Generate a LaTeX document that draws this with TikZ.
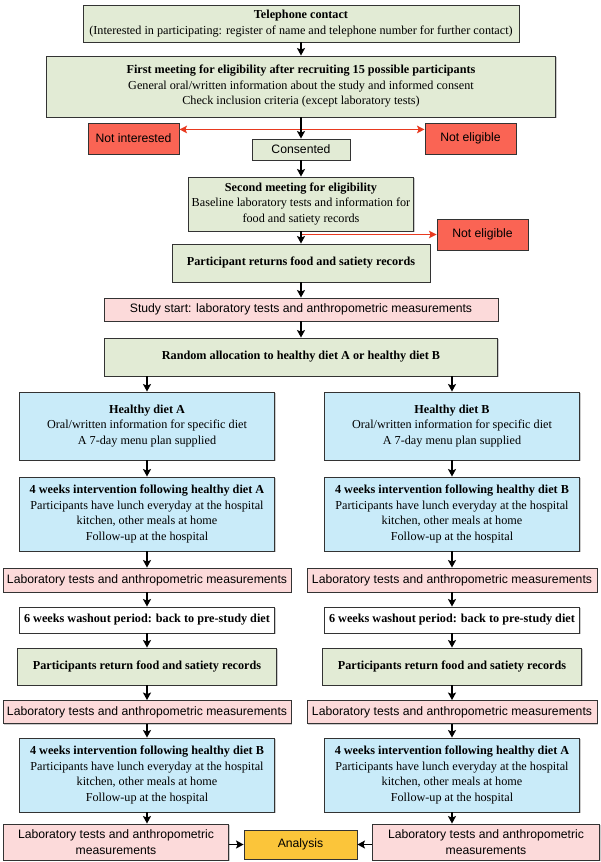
\documentclass[tikz,border=0pt]{standalone}
\usepackage{fontspec}
\setmainfont{Liberation Serif}
\setsansfont{Liberation Sans}
\usetikzlibrary{arrows.meta,shadows,calc}
\definecolor{boxgreen}{HTML}{E2EBD5}
\definecolor{boxpink}{HTML}{FCDADA}
\definecolor{boxblue}{HTML}{C9EBF9}
\definecolor{boxred}{HTML}{FA6454}
\definecolor{boxorange}{HTML}{FBC53A}
\definecolor{arrred}{HTML}{E8391F}
\begin{document}
\begin{tikzpicture}[x=1pt, y=-1pt,
        box/.style={rectangle, draw=black!80, line width=0.9pt, align=center, inner sep=2pt,
            font=\fontsize{12.2}{15.5}\selectfont,
            drop shadow={shadow xshift=1.3pt, shadow yshift=-1.3pt, opacity=0.4}},
        greenbox/.style={box, fill=boxgreen},
        bluebox/.style={box, fill=boxblue},
        whitebox/.style={box, fill=white},
        pinkbox/.style={box, fill=boxpink, font=\fontsize{12.2}{15.5}\selectfont\sffamily},
        redbox/.style={box, fill=boxred, font=\fontsize{12.2}{15.5}\selectfont\sffamily},
        orangebox/.style={box, fill=boxorange, font=\fontsize{12.2}{15.5}\selectfont\sffamily},
        arr/.style={-{Stealth[length=7.5pt,width=8pt,inset=1.5pt]}, line width=1.9pt, black},
        redarr/.style={-{Stealth[length=7.5pt,width=7.5pt,inset=1.5pt]}, line width=1.4pt, arrred}
    ]
    \useasboundingbox (0,0) rectangle (600,862);
    \node[greenbox, minimum width=436pt, minimum height=37pt] (tel) at (301,23.5) {
        \textbf{Telephone contact}\\
        (Interested in participating: register of name and telephone number for further contact)};
    \node[greenbox, minimum width=509pt, minimum height=61pt] (first) at (301,86.5) {
        \textbf{First meeting for eligibility after recruiting 15 possible participants}\\
        General oral/written information about the study and informed consent\\
        Check inclusion criteria (except laboratory tests)};
    \node[redbox, minimum width=91pt, minimum height=31pt] (notint) at (133.5,138.5) {Not interested};
    \node[redbox, minimum width=91pt, minimum height=31pt] (notelig) at (470.5,138.5) {Not eligible};
    \node[greenbox, minimum width=98pt, minimum height=21pt, font=\fontsize{12.2}{15.5}\selectfont\sffamily] (consent) at (301,149.5) {Consented};
    \node[greenbox, minimum width=225pt, minimum height=54pt] (second) at (301,204) {
        \textbf{Second meeting for eligibility}\\
        Baseline laboratory tests and information for\\
        food and satiety records};
    \node[redbox, minimum width=91pt, minimum height=31pt] (noteligb) at (482.5,234.5) {Not eligible};
    \node[greenbox, minimum width=258pt, minimum height=38pt] (returns) at (301,263) {
        \textbf{Participant returns food and satiety records}};
    \node[pinkbox, minimum width=394pt, minimum height=23pt] (start) at (301,309.5) {
        Study start: laboratory tests and anthropometric measurements};
    \node[greenbox, minimum width=393pt, minimum height=38pt] (random) at (301,357) {
        \textbf{Random allocation to healthy diet A or healthy diet B}};
    % left arm
    \node[bluebox, minimum width=255pt, minimum height=68pt] (dietA) at (147,426) {
        \textbf{Healthy diet A}\\
        Oral/written information for specific diet\\
        A 7-day menu plan supplied};
    \node[bluebox, minimum width=255pt, minimum height=74pt] (fourA) at (147,514) {
        \textbf{4 weeks intervention following healthy diet A}\\
        Participants have lunch everyday at the hospital\\
        kitchen, other meals at home\\
        Follow-up at the hospital};
    \node[pinkbox, minimum width=288pt, minimum height=24pt] (labA) at (147,580) {
        Laboratory tests and anthropometric measurements};
    \node[whitebox, minimum width=255pt, minimum height=26pt] (washA) at (147,620) {
        \textbf{6 weeks washout period: back to pre-study diet}};
    \node[greenbox, minimum width=259pt, minimum height=37pt] (retA) at (147,666.5) {
        \textbf{Participants return food and satiety records}};
    \node[pinkbox, minimum width=288pt, minimum height=23pt] (labAb) at (147,712) {
        Laboratory tests and anthropometric measurements};
    \node[bluebox, minimum width=255pt, minimum height=74pt] (fourAb) at (147,775) {
        \textbf{4 weeks intervention following healthy diet B}\\
        Participants have lunch everyday at the hospital\\
        kitchen, other meals at home\\
        Follow-up at the hospital};
    \node[pinkbox, minimum width=225pt, minimum height=36pt] (finA) at (116,842) {
        Laboratory tests and anthropometric\\
        measurements};
    % right arm
    \node[bluebox, minimum width=255pt, minimum height=68pt] (dietB) at (452,426) {
        \textbf{Healthy diet B}\\
        Oral/written information for specific diet\\
        A 7-day menu plan supplied};
    \node[bluebox, minimum width=255pt, minimum height=74pt] (fourB) at (452,514) {
        \textbf{4 weeks intervention following healthy diet B}\\
        Participants have lunch everyday at the hospital\\
        kitchen, other meals at home\\
        Follow-up at the hospital};
    \node[pinkbox, minimum width=290pt, minimum height=24pt] (labB) at (452,580) {
        Laboratory tests and anthropometric measurements};
    \node[whitebox, minimum width=255pt, minimum height=26pt] (washB) at (452,620) {
        \textbf{6 weeks washout period: back to pre-study diet}};
    \node[greenbox, minimum width=259pt, minimum height=37pt] (retB) at (452,666.5) {
        \textbf{Participants return food and satiety records}};
    \node[pinkbox, minimum width=290pt, minimum height=23pt] (labBb) at (452,712) {
        Laboratory tests and anthropometric measurements};
    \node[bluebox, minimum width=255pt, minimum height=74pt] (fourBb) at (452,775) {
        \textbf{4 weeks intervention following healthy diet A}\\
        Participants have lunch everyday at the hospital\\
        kitchen, other meals at home\\
        Follow-up at the hospital};
    \node[pinkbox, minimum width=227pt, minimum height=36pt] (finB) at (486,842) {
        Laboratory tests and anthropometric\\
        measurements};
    \node[orangebox, minimum width=113pt, minimum height=29pt] (ana) at (300.5,844.5) {Analysis};
    % connectors
    \draw[arr] (tel) -- (first);
    \coordinate (sp1) at ($(first.south)+(0,12)$);
    \draw[redarr] (sp1) -- (sp1 -| notint.east);
    \draw[redarr] (sp1) -- (sp1 -| notelig.west);
    \draw[arr] (first) -- (consent);
    \draw[arr] (consent) -- (second);
    \coordinate (sp2) at (second.south |- noteligb);
    \draw[redarr] (sp2) -- (noteligb.west);
    \draw[arr] (second) -- (returns);
    \draw[arr] (returns) -- (start);
    \draw[arr] (start) -- (random);
    \draw[arr] (random.south -| dietA) -- (dietA);
    \draw[arr] (random.south -| dietB) -- (dietB);
    \draw[arr] (dietA) -- (fourA);
    \draw[arr] (fourA) -- (labA);
    \draw[arr] (labA) -- (washA);
    \draw[arr] (washA) -- (retA);
    \draw[arr] (retA) -- (labAb);
    \draw[arr] (labAb) -- (fourAb);
    \draw[arr] (fourAb) -- (fourAb |- finA.north);
    \draw[arr] (dietB) -- (fourB);
    \draw[arr] (fourB) -- (labB);
    \draw[arr] (labB) -- (washB);
    \draw[arr] (washB) -- (retB);
    \draw[arr] (retB) -- (labBb);
    \draw[arr] (labBb) -- (fourBb);
    \draw[arr] (fourBb) -- (fourBb |- finB.north);
    \draw[arr] (finA.east |- ana) -- (ana.west);
    \draw[arr] (finB.west |- ana) -- (ana.east);
\end{tikzpicture}
\end{document}
